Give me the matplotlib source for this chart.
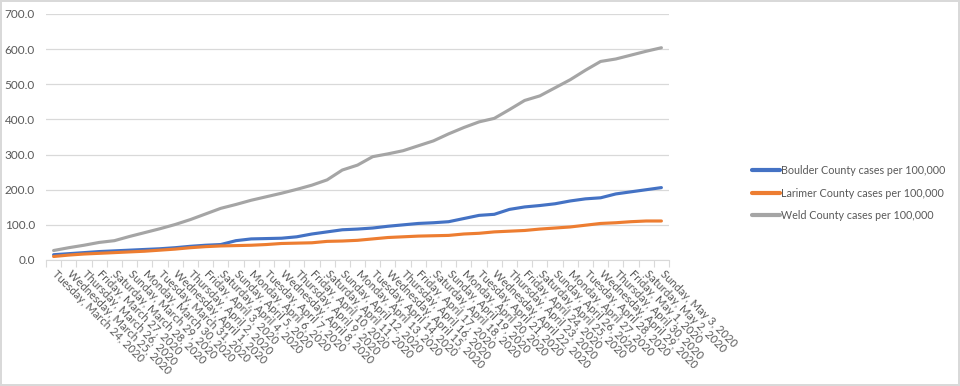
import matplotlib
matplotlib.use("Agg")
import matplotlib.pyplot as plt
import matplotlib.transforms as mtransforms
import datetime as dt

dates = [dt.date(2020, 3, 24) + dt.timedelta(days=k) for k in range(41)]
date_labels = [f"{d.strftime('%A')}, {d.strftime('%B')} {d.day}, 2020" for d in dates]

boulder = [15, 18, 21, 24, 26, 28, 30, 32, 35, 39, 42, 44, 55, 60, 61, 62, 66, 74, 80, 86,
           88, 91, 96, 100, 104, 106, 109, 118, 127, 130, 144, 151, 155, 160, 168, 174, 177,
           188, 194, 200, 206]
larimer = [10, 14, 17, 19, 21, 23, 25, 28, 31, 35, 38, 40, 41, 42, 44, 47, 48, 49, 53, 54,
           56, 60, 64, 66, 68, 69, 70, 74, 76, 80, 82, 84, 88, 91, 94, 99, 104, 106, 109,
           111, 111]
weld = [27, 35, 42, 50, 55, 67, 78, 89, 101, 115, 131, 147, 158, 170, 180, 190, 201, 213,
        228, 256, 270, 294, 302, 311, 325, 339, 359, 377, 393, 403, 428, 454, 467, 490, 513,
        540, 565, 572, 583, 594, 604]

series_names = ["Boulder County cases per 100,000",
                "Larimer County cases per 100,000",
                "Weld County cases per 100,000"]
colors = ["#4472C4", "#ED7D31", "#A5A5A5"]
yticks = [0, 100, 200, 300, 400, 500, 600, 700]

plt.rcParams['font.family'] = ['Lato', 'DejaVu Sans']

fig = plt.figure(figsize=(9.6, 3.86), dpi=100)
fig.patch.set_facecolor("white")
fig.patch.set_edgecolor("#D9D9D9")
fig.patch.set_linewidth(1.5)
ax = fig.add_axes([46/960, 1-260/386, (669-46)/960, (260-14)/386])

x = list(range(len(dates)))
for vals, name, c in zip([boulder, larimer, weld], series_names, colors):
    ax.plot(x, vals, color=c, lw=2.25, label=name, solid_capstyle='round')

ax.set_xlim(-0.5, len(dates) - 0.5)
ax.set_ylim(0, 700)
ax.set_yticks(yticks)
ax.set_yticklabels([f"{v:.1f}" for v in yticks], fontsize=8.5, color="#595959")
ax.yaxis.grid(True, color="#D9D9D9", lw=0.9)
ax.set_axisbelow(True)
ax.tick_params(axis='y', length=0, pad=8)

for s in ['top', 'right', 'left']:
    ax.spines[s].set_visible(False)
ax.spines['bottom'].set_color("#D9D9D9")

# tick marks between categories
ax.set_xticks([k - 0.5 for k in range(len(dates) + 1)])
ax.set_xticklabels([])
ax.tick_params(axis='x', length=5, color="#D9D9D9", direction='out')

trans = ax.get_xaxis_transform() + mtransforms.ScaledTranslation(0/100, -12/100, fig.dpi_scale_trans)
for k, lab in enumerate(date_labels):
    ax.text(k, 0, lab, transform=trans, rotation=-45, rotation_mode='anchor',
            ha='left', va='center', fontsize=8, color="#595959")

leg = fig.legend(loc='center left', bbox_to_anchor=(752/960, 1-193/386), frameon=False,
                 fontsize=7.75, handlelength=2.6, handletextpad=0.1, labelspacing=1.05,
                 borderpad=0, borderaxespad=0, labelcolor="#595959")
for h in leg.get_lines():
    h.set_linewidth(3)

fig.savefig("out.png", dpi=100, facecolor=fig.get_facecolor(), edgecolor=fig.get_edgecolor())
